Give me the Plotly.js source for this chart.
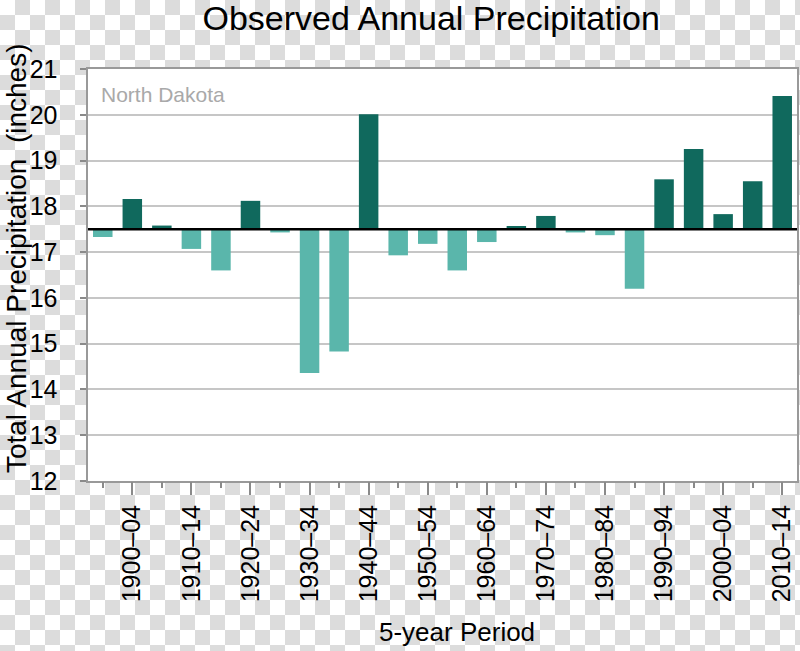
<!DOCTYPE html>
<html>
<head>
<meta charset="utf-8">
<script src="https://cdn.plot.ly/plotly-3.0.1.min.js"></script>
<style>
  html, body { margin: 0; padding: 0; }
  body {
    width: 800px; height: 651px; overflow: hidden;
    background-color: #ffffff;
    background-image:
      linear-gradient(45deg, #dcdcdc 25%, transparent 25%, transparent 75%, #dcdcdc 75%),
      linear-gradient(45deg, #dcdcdc 25%, transparent 25%, transparent 75%, #dcdcdc 75%);
    background-size: 30px 30px;
    background-position: 0 0, 15px 15px;
  }
  #chart { width: 800px; height: 651px; }
</style>
</head>
<body>
<div id="chart"></div>
<script>
// 5-year periods (categories)
const categories = [
  '1895–99','1900–04','1905–09','1910–14','1915–19','1920–24','1925–29','1930–34',
  '1935–39','1940–44','1945–49','1950–54','1955–59','1960–64','1965–69','1970–74',
  '1975–79','1980–84','1985–89','1990–94','1995–99','2000–04','2005–09','2010–14'
];
// Observed total annual precipitation (inches)
const precipitation = [
  17.33, 18.16, 17.58, 17.07, 16.60, 18.12, 17.43, 14.36,
  14.83, 20.01, 16.93, 17.18, 16.60, 17.22, 17.57, 17.79,
  17.43, 17.37, 16.20, 18.59, 19.25, 17.83, 18.55, 20.41
];
// Long-term average the bars are drawn from
const baseline = 17.5;
// Labelled x ticks
const xTickLabels = [
  '1900–04','1910–14','1920–24','1930–34','1940–44','1950–54',
  '1960–64','1970–74','1980–84','1990–94','2000–04','2010–14'
];
// y ticks
const yTicks = [12, 13, 14, 15, 16, 17, 18, 19, 20, 21];

const darkColor = '#10695d';
const lightColor = '#5ab6ab';
const font = 'Liberation Sans, Arial, sans-serif';

const barTrace = {
  type: 'bar',
  x: categories,
  y: precipitation.map(v => v - baseline),
  base: baseline,
  marker: { color: precipitation.map(v => v >= baseline ? darkColor : lightColor), line: { width: 0 } },
  hoverinfo: 'x+text',
  text: precipitation.map(v => v.toFixed(2)),
  textposition: 'none',
  showlegend: false
};

// carrier for the minor (unlabelled) tick axis
const minorTickTrace = {
  type: 'scatter',
  x: categories,
  y: precipitation,
  xaxis: 'x2',
  mode: 'none',
  hoverinfo: 'skip',
  showlegend: false
};

const layout = {
  width: 800,
  height: 651,
  margin: { l: 88, r: 3, t: 69, b: 170, pad: 0 },
  paper_bgcolor: 'rgba(0,0,0,0)',
  plot_bgcolor: '#ffffff',
  font: { family: font, color: '#000000' },
  bargap: 0.34,
  title: {
    text: 'Observed Annual Precipitation',
    font: { family: font, size: 34, color: '#000000' },
    x: 0.539, xanchor: 'center',
    yref: 'container', y: 0.99, yanchor: 'top',
    pad: { t: 0, b: 0 }
  },
  xaxis: {
    type: 'category',
    categoryorder: 'array',
    categoryarray: categories,
    range: [-0.5, categories.length - 0.5],
    tickmode: 'array',
    tickvals: xTickLabels,
    ticktext: xTickLabels,
    tickangle: -90,
    ticks: 'outside',
    ticklen: 12,
    tickwidth: 2,
    tickcolor: '#8a8a8a',
    tickfont: { family: font, size: 25, color: '#000000' },
    showline: true,
    linecolor: '#999999',
    linewidth: 2,
    mirror: true,
    showgrid: false,
    zeroline: false,
    fixedrange: true
  },
  xaxis2: {
    type: 'category',
    categoryorder: 'array',
    categoryarray: categories,
    range: [-0.5, categories.length - 0.5],
    overlaying: 'x',
    anchor: 'y',
    side: 'bottom',
    tickmode: 'array',
    tickvals: categories,
    ticks: 'outside',
    ticklen: 6,
    tickwidth: 2,
    tickcolor: '#8a8a8a',
    showticklabels: false,
    showline: false,
    showgrid: false,
    zeroline: false,
    fixedrange: true
  },
  yaxis: {
    range: [12, 21],
    tickmode: 'array',
    tickvals: yTicks,
    ticktext: yTicks.map(v => v + '\u2002\u2009'),
    ticks: 'outside',
    ticklen: 6,
    tickwidth: 2,
    tickcolor: '#8a8a8a',
    tickfont: { family: font, size: 25, color: '#000000' },
    showgrid: true,
    gridcolor: '#c6c6c6',
    gridwidth: 2,
    showline: true,
    linecolor: '#999999',
    linewidth: 2,
    mirror: true,
    zeroline: false,
    fixedrange: true
  },
  shapes: [{
    type: 'line', xref: 'paper', yref: 'y',
    x0: 0, x1: 1, y0: baseline, y1: baseline,
    line: { color: '#000000', width: 2.5 },
    layer: 'above'
  }],
  annotations: [
    {
      text: 'North Dakota',
      xref: 'paper', yref: 'y',
      x: 0.0155, y: 20.45,
      xanchor: 'left', yanchor: 'middle',
      showarrow: false,
      font: { family: font, size: 21, color: '#a9a9a9' }
    },
    {
      // y-axis title
      text: 'Total Annual Precipitation\u00a0 (inches)',
      xref: 'paper', yref: 'paper',
      x: -0.1016, y: 0.541,
      xanchor: 'center', yanchor: 'middle',
      textangle: -90,
      showarrow: false,
      font: { family: font, size: 28, color: '#000000' }
    },
    {
      // x-axis title
      text: '5-year Period',
      xref: 'paper', yref: 'paper',
      x: 0.5205, y: -0.3665,
      xanchor: 'center', yanchor: 'middle',
      showarrow: false,
      font: { family: font, size: 26, color: '#000000' }
    }
  ]
};

Plotly.newPlot('chart', [barTrace, minorTickTrace], layout, { displayModeBar: false, staticPlot: true });
</script>
</body>
</html>
